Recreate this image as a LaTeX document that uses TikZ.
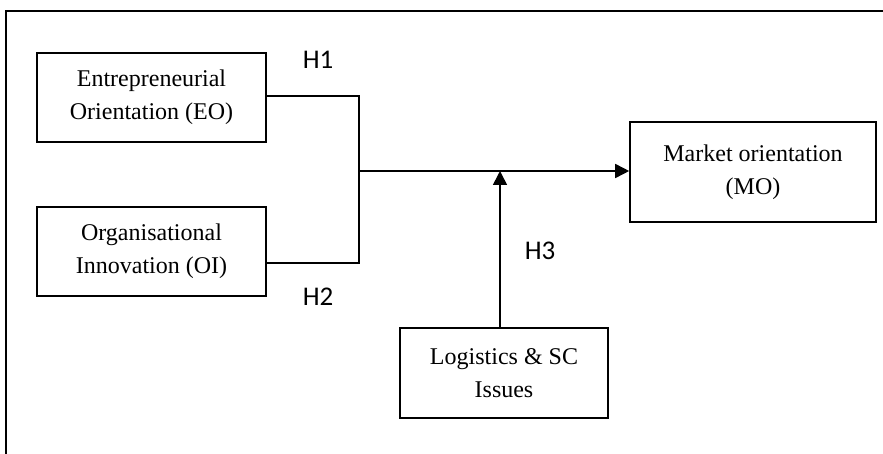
\documentclass[tikz,border=0pt]{standalone}
\usepackage{fontspec}
\setmainfont{Liberation Serif}
\newfontfamily\hfont{Carlito}
\usetikzlibrary{arrows.meta}
\begin{document}
\begin{tikzpicture}[x=1pt,y=-1pt,
  box/.style={draw,line width=1.6pt,align=center,inner sep=0pt,
    font=\fontsize{24}{33}\selectfont},
  hlab/.style={font=\hfont\fontsize{27}{30}\selectfont,inner sep=0pt},
  conn/.style={line width=1.6pt},
  arr/.style={conn,-{Triangle[length=14pt,width=14pt]}}]
\useasboundingbox (0,0) rectangle (883,454);
\clip (0,0) rectangle (883,454);
\fill[white] (0,0) rectangle (883,454);
\draw[line width=1.9pt] (895,11) -- (6,11) -- (6,465);
\node[box,minimum width=229pt,minimum height=89pt] (EO) at (151.5,97.5) {Entrepreneurial\\Orientation (EO)};
\node[box,minimum width=229pt,minimum height=89pt] (OI) at (151.5,251.5) {Organisational\\Innovation (OI)};
\node[box,minimum width=246pt,minimum height=100pt] (MO) at (753,172) {Market orientation\\(MO)};
\node[box,minimum width=208pt,minimum height=90pt] (LS) at (504,373) {Logistics \& SC\\Issues};
\coordinate (J) at (359,171);
\coordinate (M) at (500,171);
\draw[conn] ([yshift=1.5pt]EO.east) -| (J);
\draw[conn] ([yshift=-11.5pt]OI.east) -| (J);
\draw[arr] (J) -- (J -| MO.west);
\draw[arr] (LS.north -| M) -- (M);
\node[hlab] (H1) at (318,60) {H1};
\node[hlab] (H2) at (318,297) {H2};
\node[hlab] (H3) at (540,251) {H3};
\end{tikzpicture}
\end{document}
